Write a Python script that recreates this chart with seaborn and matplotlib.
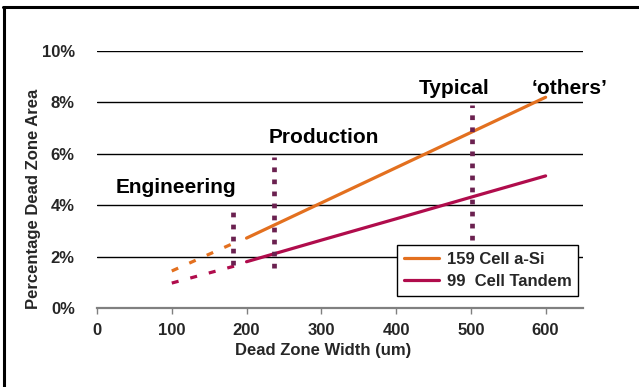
import matplotlib
matplotlib.use("Agg")
import matplotlib.pyplot as plt
import seaborn as sns
from matplotlib.lines import Line2D
from matplotlib.ticker import FuncFormatter

# ---- data ----
asi_x = [200, 300, 400, 500, 600]
asi_y = [2.72, 4.09, 5.46, 6.83, 8.20]
asi_ext_x = [100, 185]
asi_ext_y = [1.44, 2.55]
tan_x = [200, 300, 400, 500, 600]
tan_y = [1.80, 2.64, 3.47, 4.31, 5.14]
tan_ext_x = [100, 190]
tan_ext_y = [0.97, 1.68]
marker_x = [182, 237, 502]
marker_lo = [1.67, 1.56, 2.65]
marker_hi = [3.81, 5.88, 7.90]
stage_labels = ["Engineering", "Production", "Typical", "\u2018others\u2019"]
stage_x = [106, 303, 477, 632]
stage_y = [4.67, 6.65, 8.56, 8.56]
series_names = ["159 Cell a-Si", "99  Cell Tandem"]
x_ticks = [0, 100, 200, 300, 400, 500, 600]
y_ticks = [0, 2, 4, 6, 8, 10]

ORANGE = "#E3701F"
CRIMSON = "#B00C4C"
PURPLE = "#6B2150"

sns.set_style("white")
plt.rcParams["font.family"] = ["Liberation Sans", "DejaVu Sans"]
plt.rcParams["font.weight"] = "bold"

fig = plt.figure(figsize=(6.39, 3.87), dpi=100)
ax = fig.add_axes([97 / 639, 1 - 308 / 387, 486 / 639, 257 / 387])

# horizontal gridlines
for yv in y_ticks[1:]:
    ax.axhline(yv, color="black", linewidth=1.0, zorder=1)

lw = 2.3
sns.lineplot(x=asi_x, y=asi_y, color=ORANGE, linewidth=lw, ax=ax, zorder=3)
sns.lineplot(x=tan_x, y=tan_y, color=CRIMSON, linewidth=lw, ax=ax, zorder=3)
sns.lineplot(x=asi_ext_x, y=asi_ext_y, color=ORANGE, linewidth=lw, ax=ax,
             linestyle=(0, (2.2, 3.8)), zorder=3)
sns.lineplot(x=tan_ext_x, y=tan_ext_y, color=CRIMSON, linewidth=lw, ax=ax,
             linestyle=(0, (2.2, 3.8)), zorder=3)

for mx, lo, hi in zip(marker_x, marker_lo, marker_hi):
    ax.plot([mx, mx], [lo, hi], color=PURPLE, linewidth=3.4,
            linestyle=(0, (1.0, 1.55)), solid_capstyle="butt",
            dash_capstyle="butt", zorder=4)

for txt, tx, ty in zip(stage_labels, stage_x, stage_y):
    ax.text(tx, ty, txt, fontsize=15, fontweight="bold", ha="center",
            va="center", color="black", zorder=5)

ax.set_xlim(0, 650)
ax.set_ylim(0, 10)
ax.set_xticks(x_ticks)
ax.set_yticks(y_ticks)
ax.yaxis.set_major_formatter(FuncFormatter(lambda v, p: f"{v:.0f}%"))
for s in ["top", "right", "left"]:
    ax.spines[s].set_visible(False)
ax.spines["bottom"].set_color("#808080")
ax.spines["bottom"].set_linewidth(1.6)
ax.spines["bottom"].set_zorder(2)
ax.tick_params(axis="x", direction="out", length=4, width=1, color="#808080",
               pad=7, labelsize=12, bottom=True)
ax.tick_params(axis="y", length=0, pad=16, labelsize=12, left=True)
for lab in ax.get_xticklabels() + ax.get_yticklabels():
    lab.set_fontweight("bold")

ax.set_xlabel("Dead Zone Width (um)", fontsize=12, fontweight="bold")
ax.set_ylabel("Percentage Dead Zone Area", fontsize=12, fontweight="bold")
ax.xaxis.set_label_coords(0.465, -0.135)
ax.yaxis.set_label_coords(-0.115, 0.424)

handles = [Line2D([], [], color=ORANGE, linewidth=lw),
           Line2D([], [], color=CRIMSON, linewidth=lw)]
leg = ax.legend(handles, series_names, loc="lower left",
                bbox_to_anchor=(0.617, 0.047), frameon=True, fancybox=False,
                edgecolor="black", framealpha=1,
                prop={"size": 12, "weight": "bold"}, handlelength=2.1,
                handletextpad=0.5, borderpad=0.4, labelspacing=0.45,
                borderaxespad=0)
leg.get_frame().set_linewidth(1.0)
leg.set_zorder(6)

# figure frame (top and left edges)
fig.add_artist(Line2D([3 / 639, 1], [1 - 7 / 387, 1 - 7 / 387],
                      color="black", linewidth=2.2,
                      transform=fig.transFigure))
fig.add_artist(Line2D([4 / 639, 4 / 639], [0, 1 - 7 / 387],
                      color="black", linewidth=2.2,
                      transform=fig.transFigure))

fig.savefig("out.png", dpi=100)
